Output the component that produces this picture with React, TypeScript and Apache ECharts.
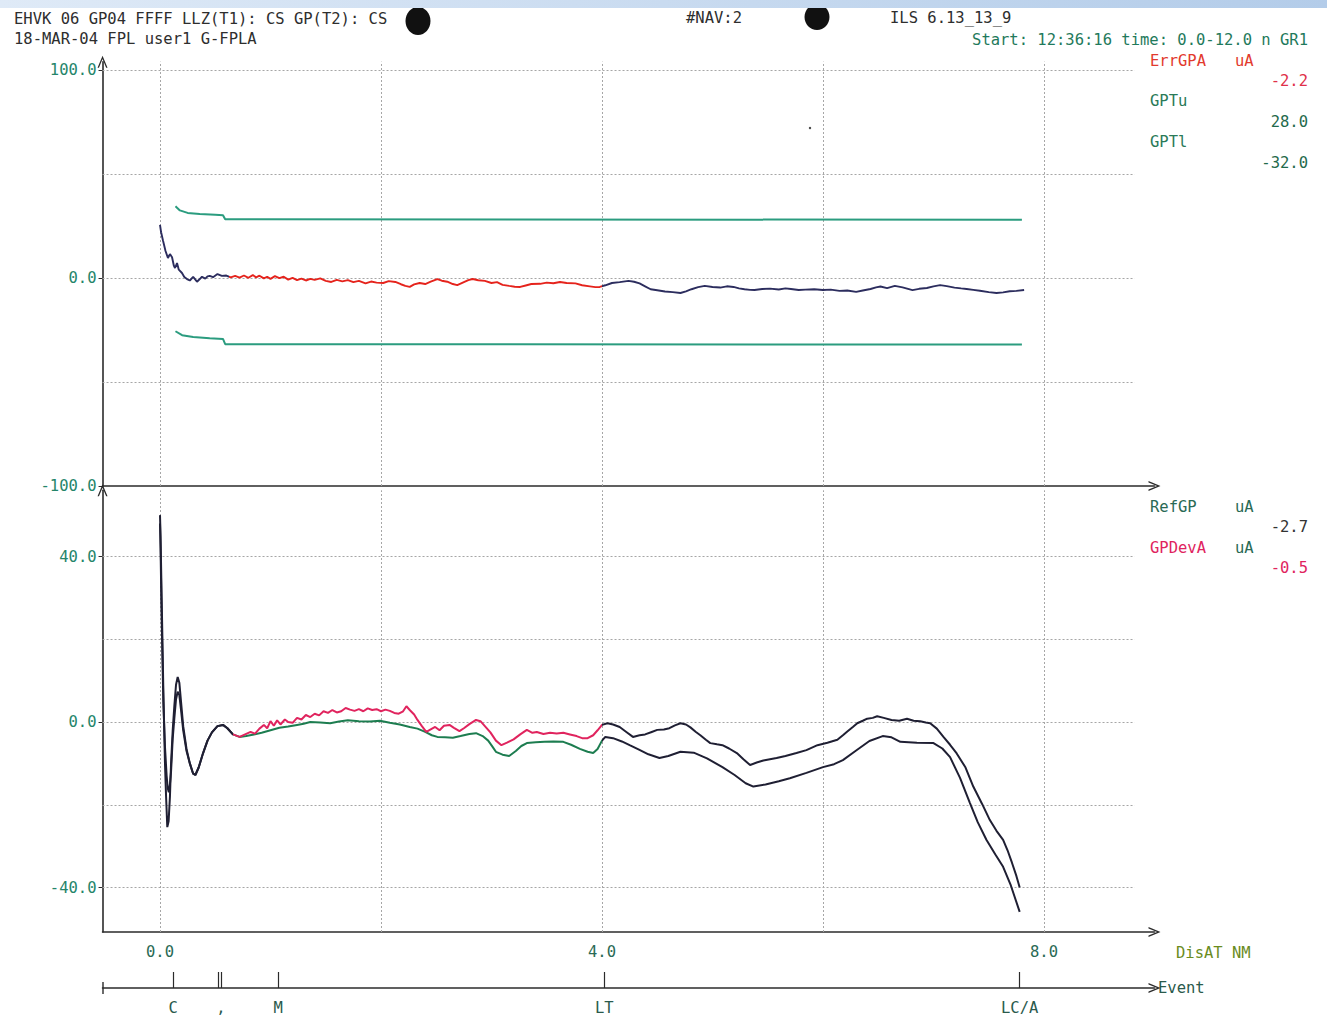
import React, { useEffect, useRef } from "react";
import * as echarts from "echarts";

// ---------- data (distance NM, value uA) ----------
const errGpa: [number, number][] = [
  [0.0, 25.5], [0.01, 22], [0.027, 18], [0.05, 13], [0.072, 9.6], [0.09, 11.5], [0.109, 10], [0.125, 6],
  [0.136, 4.8], [0.154, 7.2], [0.17, 4], [0.199, 2.4], [0.22, 0.5], [0.244, -0.5], [0.27, -1.2], [0.3, 0.5],
  [0.32, -0.8], [0.335, -1.8], [0.36, -0.5], [0.38, 0.6], [0.41, -0.3], [0.43, 0.8], [0.45, 1.0], [0.48, 0.4],
  [0.52, 1.9], [0.56, 1.0], [0.6, 1.2], [0.64, 0.3], [0.68, 1.0], [0.72, 0.2], [0.76, 1.2], [0.8, 0.1],
  [0.84, 1.4], [0.87, 0.3], [0.9, 1.1], [0.94, -0.2], [0.97, 0.6], [1.0, -0.4], [1.04, 0.9], [1.08, -0.1],
  [1.12, 0.6], [1.16, -0.8], [1.2, 0.1], [1.24, -1.0], [1.28, -0.3], [1.32, -1.2], [1.36, -0.4], [1.4, -0.9],
  [1.45, -0.2], [1.5, -1.4], [1.55, -1.9], [1.6, -0.9], [1.65, -1.6], [1.7, -1.0], [1.75, -2.0], [1.8, -1.4],
  [1.86, -2.6], [1.91, -1.7], [1.96, -2.2], [2.02, -2.4], [2.07, -1.5], [2.13, -1.9], [2.18, -3.0], [2.22, -3.8],
  [2.26, -4.3], [2.3, -3.1], [2.35, -2.4], [2.4, -2.9], [2.45, -1.8], [2.51, -0.5], [2.55, -1.3], [2.6, -1.8],
  [2.65, -2.9], [2.69, -3.4], [2.74, -2.2], [2.79, -1.0], [2.83, -0.5], [2.88, -1.1], [2.94, -1.4], [3.0, -2.4],
  [3.05, -2.0], [3.1, -3.3], [3.16, -3.8], [3.21, -4.2], [3.26, -4.3], [3.31, -3.6], [3.36, -2.9], [3.44, -2.8],
  [3.5, -2.2], [3.56, -2.5], [3.62, -1.9], [3.68, -2.4], [3.76, -2.6], [3.82, -3.5], [3.89, -4.0], [3.94, -4.4],
  [3.98, -4.3], [4.03, -3.5], [4.09, -2.4], [4.16, -2.0], [4.24, -1.4], [4.29, -1.8], [4.34, -2.6], [4.39, -4.0],
  [4.44, -5.4], [4.5, -5.9], [4.57, -6.5], [4.64, -6.8], [4.71, -7.2], [4.76, -6.4], [4.81, -5.4], [4.87, -4.4],
  [4.93, -3.8], [5.0, -4.3], [5.07, -4.6], [5.13, -4.0], [5.19, -4.3], [5.24, -5.0], [5.29, -5.4], [5.34, -5.7],
  [5.38, -5.8], [5.45, -5.3], [5.52, -5.1], [5.6, -5.5], [5.66, -5.0], [5.71, -5.3], [5.78, -5.8], [5.84, -5.6],
  [5.92, -5.4], [6.0, -5.8], [6.07, -5.6], [6.15, -6.2], [6.22, -6.0], [6.3, -6.7], [6.36, -6.0], [6.43, -5.3],
  [6.48, -4.5], [6.52, -4.1], [6.58, -4.9], [6.65, -3.8], [6.72, -4.5], [6.81, -5.8], [6.87, -5.2], [6.94, -4.8],
  [7.0, -4.0], [7.06, -3.4], [7.12, -3.9], [7.19, -4.6], [7.25, -5.0], [7.3, -5.3], [7.36, -5.7], [7.42, -6.1],
  [7.5, -6.8], [7.57, -7.2], [7.63, -6.9], [7.69, -6.4], [7.75, -6.2], [7.82, -5.8],
];

const gptU: [number, number][] = [
  [0.14, 34.5], [0.18, 32.5], [0.25, 31.3], [0.36, 30.8], [0.5, 30.4], [0.57, 30.2], [0.59, 28.2], [7.8, 28.0],
];

const gptL: [number, number][] = [
  [0.14, -25.6], [0.2, -27.5], [0.3, -28.4], [0.45, -29.0], [0.57, -29.3], [0.59, -31.8], [7.8, -32.0],
];

const gpDevA: [number, number][] = [
  [0.0, 50], [0.005, 45], [0.015, 30], [0.03, 8], [0.045, -10], [0.055, -18], [0.066, -25.4], [0.078, -24],
  [0.09, -18], [0.1, -10], [0.115, -2], [0.13, 4], [0.145, 9], [0.16, 10.9], [0.175, 9.5], [0.19, 5],
  [0.21, -1], [0.24, -6.5], [0.27, -10], [0.3, -12.5], [0.32, -12.8], [0.35, -11], [0.39, -7.5], [0.43, -4.5],
  [0.47, -2.5], [0.52, -1.0], [0.57, -0.7], [0.61, -1.5], [0.66, -3.0], [0.72, -3.6], [0.77, -3.0], [0.82, -2.4],
  [0.86, -2.8], [0.9, -1.6], [0.94, -0.7], [0.97, -1.5], [1.0, 0.2], [1.03, -0.9], [1.06, 0.4], [1.09, -0.6],
  [1.13, 0.6], [1.16, 0.0], [1.2, -0.2], [1.24, 1.0], [1.28, 0.6], [1.32, 1.7], [1.36, 1.2], [1.4, 2.0],
  [1.44, 1.6], [1.48, 2.6], [1.52, 2.2], [1.56, 2.9], [1.6, 2.3], [1.64, 2.6], [1.68, 3.4], [1.72, 3.0],
  [1.76, 2.7], [1.8, 3.1], [1.84, 2.6], [1.88, 3.3], [1.92, 2.9], [1.96, 3.1], [2.0, 2.6], [2.04, 3.0],
  [2.08, 2.7], [2.12, 2.2], [2.16, 2.0], [2.2, 2.6], [2.23, 3.8], [2.26, 2.9], [2.3, 1.8], [2.33, 0.5],
  [2.37, -1.0], [2.41, -2.4], [2.45, -1.8], [2.49, -1.2], [2.53, -2.0], [2.57, -0.9], [2.62, -0.7], [2.66, -1.4],
  [2.71, -2.2], [2.75, -1.5], [2.8, -0.5], [2.86, 0.5], [2.9, 0.2], [2.94, -1.0], [2.99, -2.5], [3.04, -4.5],
  [3.09, -5.6], [3.14, -5.0], [3.2, -4.2], [3.26, -3.0], [3.32, -1.9], [3.37, -2.6], [3.41, -2.4], [3.47, -2.9],
  [3.53, -2.6], [3.59, -2.8], [3.65, -2.6], [3.71, -3.0], [3.77, -3.4], [3.82, -3.9], [3.87, -3.9], [3.92, -3.2],
  [3.96, -2.0], [4.0, -0.7], [4.05, -0.3], [4.1, -0.6], [4.16, -1.2], [4.22, -2.4], [4.28, -3.6], [4.34, -3.2],
  [4.39, -3.0], [4.45, -2.4], [4.5, -1.9], [4.56, -1.8], [4.61, -1.5], [4.66, -0.8], [4.71, -0.3], [4.76, -0.6],
  [4.8, -1.3], [4.85, -2.4], [4.89, -3.2], [4.94, -4.3], [4.98, -5.1], [5.04, -5.4], [5.09, -5.6], [5.15, -6.4],
  [5.22, -7.5], [5.28, -9.0], [5.34, -10.4], [5.4, -9.8], [5.46, -9.3], [5.52, -9.0], [5.58, -8.7], [5.66, -8.2],
  [5.76, -7.5], [5.85, -6.8], [5.95, -5.6], [6.04, -5.0], [6.13, -4.3], [6.18, -3.2], [6.22, -2.3], [6.27, -1.2],
  [6.31, -0.3], [6.36, 0.3], [6.4, 0.8], [6.45, 1.0], [6.49, 1.4], [6.55, 1.0], [6.62, 0.5], [6.69, 0.3],
  [6.76, 0.8], [6.82, 0.3], [6.88, 0.2], [6.93, -0.1], [6.97, -0.3], [7.03, -1.6], [7.09, -3.6], [7.15, -5.5],
  [7.21, -7.6], [7.29, -11], [7.36, -15.6], [7.44, -19.8], [7.51, -23.7], [7.57, -26.3], [7.63, -28.5], [7.67, -31],
  [7.71, -34], [7.75, -37.2], [7.78, -40],
];

const refGp: [number, number][] = [
  [0.0, 48], [0.005, 42], [0.015, 25], [0.03, 5], [0.045, -6], [0.06, -13], [0.07, -16], [0.08, -17],
  [0.09, -15], [0.1, -12], [0.115, -4], [0.13, 1], [0.145, 5.5], [0.16, 7.3], [0.175, 6.5], [0.19, 3],
  [0.21, -2], [0.24, -7], [0.27, -10], [0.3, -12.5], [0.32, -12.8], [0.35, -11], [0.39, -7.5], [0.43, -4.5],
  [0.47, -2.5], [0.52, -1.0], [0.57, -0.7], [0.61, -1.5], [0.66, -3.0], [0.72, -3.6], [0.78, -3.4], [0.85, -3.0],
  [0.92, -2.6], [1.0, -2.0], [1.08, -1.4], [1.16, -1.1], [1.24, -0.7], [1.3, -0.4], [1.36, 0.0], [1.45, -0.1],
  [1.54, -0.3], [1.62, 0.1], [1.7, 0.4], [1.8, 0.2], [1.9, 0.1], [1.99, 0.3], [2.08, -0.2], [2.17, -0.6],
  [2.26, -1.2], [2.33, -1.6], [2.4, -2.4], [2.46, -3.2], [2.51, -3.6], [2.58, -3.7], [2.65, -3.8], [2.72, -3.4],
  [2.8, -2.9], [2.86, -2.7], [2.92, -3.4], [2.97, -4.5], [3.01, -6.0], [3.04, -7.2], [3.1, -7.9], [3.16, -8.2],
  [3.22, -7.0], [3.27, -5.8], [3.32, -5.1], [3.4, -4.9], [3.48, -4.8], [3.56, -4.7], [3.65, -4.8], [3.72, -5.5],
  [3.8, -6.5], [3.87, -7.2], [3.92, -7.5], [3.96, -6.5], [4.0, -4.5], [4.03, -3.6], [4.1, -3.9], [4.18, -4.7],
  [4.25, -5.6], [4.33, -6.6], [4.42, -7.8], [4.52, -8.7], [4.6, -8.2], [4.71, -7.2], [4.83, -7.4], [4.95, -8.8],
  [5.09, -10.9], [5.2, -12.8], [5.3, -14.8], [5.37, -15.6], [5.48, -15.1], [5.6, -14.3], [5.7, -13.6], [5.85, -12.3],
  [6.0, -10.9], [6.1, -10.2], [6.18, -9.2], [6.3, -6.9], [6.42, -4.6], [6.54, -3.4], [6.62, -3.7], [6.7, -4.8],
  [6.85, -5.0], [7.0, -5.1], [7.08, -6.4], [7.15, -8.5], [7.24, -13.5], [7.33, -19.6], [7.4, -24.2], [7.48, -28.5],
  [7.56, -32], [7.63, -35], [7.7, -39.5], [7.78, -45.9],
];

const yTicksTop = [-100, 0, 100];
const yTicksBottom = [-40, 0, 40];
const xTicks = [0, 4, 8];
const gridXs = [0, 2, 4, 6, 8];
const gridYsTop = [100, 50, 0, -50];
const gridYsBottom = [40, 20, 0, -20, -40];
const eventPos = [0.12, 0.525, 0.552, 1.07, 4.02, 7.78];
const eventLabels = ["C", "", ",", "M", "LT", "LC/A"];

// ---------- styling ----------
const FONT = "DejaVu Sans Mono";
const FS = 15.5;
const AXIS = "#2b2b2b";
const NAVY = "#2c2d5e";
const DARK = "#1f1f33";
const RED = "#e5231c";
const CRIMSON = "#e0245e";
const GREEN = "#1d7d50";
const TEAL = "#2b9c7f";
const LABEL_GREEN = "#24856a";
const ARROW = "path://M0,12 L5,0 L10,12 L8.6,12 L5,3.4 L1.4,12 Z";

const X_MIN = -0.52;
const X_MAX = 9.0;
const GRID_LEFT = 102.54;
const GRID_W = 1051.96;

function txt(text: string, x: number, y: number, fill: string, align: string = "left") {
  return {
    type: "text",
    x,
    y,
    silent: true,
    style: {
      text,
      fill,
      fontFamily: FONT,
      fontSize: FS,
      align,
      textAlign: align,
      verticalAlign: "middle",
      textVerticalAlign: "middle",
    },
  };
}

const gridLine = { color: "#a6a6a6", type: [2, 2], width: 1 };

export default function App() {
  const ref = useRef<HTMLDivElement>(null);

  useEffect(() => {
    if (!ref.current) return;
    const chart = echarts.init(ref.current, undefined, { renderer: "svg" });

    const axisLine = {
      show: true,
      onZero: false,
      symbol: ["none", ARROW],
      symbolSize: [10, 12],
      lineStyle: { color: AXIS, width: 1.6 },
    };

    const markTop = {
      silent: true,
      symbol: ["none", "none"],
      label: { show: false },
      lineStyle: gridLine,
      z: 1,
      animation: false,
      data: [
        ...gridYsTop.map((y) => [{ coord: [X_MIN, y] }, { coord: [8.82, y] }]),
        ...gridXs.map((x) => [{ coord: [x, -100] }, { coord: [x, 104] }]),
      ],
    };
    const markBottom = {
      silent: true,
      symbol: ["none", "none"],
      label: { show: false },
      lineStyle: gridLine,
      z: 1,
      animation: false,
      data: [
        ...gridYsBottom.map((y) => [{ coord: [X_MIN, y] }, { coord: [8.82, y] }]),
        ...gridXs.map((x) => [{ coord: [x, -50.75] }, { coord: [x, 56] }]),
      ],
    };

    const option: any = {
      animation: false,
      backgroundColor: "#ffffff",
      grid: [
        { left: GRID_LEFT, top: 61.68, width: GRID_W, height: 424.32 },
        { left: GRID_LEFT, top: 490.3, width: GRID_W, height: 441.7 },
        { left: GRID_LEFT, top: 968, width: GRID_W, height: 20 },
      ],
      xAxis: [
        {
          gridIndex: 0, type: "value", min: X_MIN, max: X_MAX,
          axisLine, axisTick: { show: false }, axisLabel: { show: false }, splitLine: { show: false },
        },
        {
          gridIndex: 1, type: "value", min: X_MIN, max: X_MAX,
          axisLine, axisTick: { show: false }, splitLine: { show: false },
          axisLabel: {
            customValues: xTicks,
            formatter: (v: number) => v.toFixed(1),
            margin: 12,
            fontFamily: FONT, fontSize: FS, color: "#2a6a55",
          },
        },
        {
          gridIndex: 2, type: "value", min: X_MIN, max: X_MAX,
          axisLine, splitLine: { show: false },
          axisTick: { show: true, customValues: eventPos, inside: true, length: 16, lineStyle: { color: AXIS, width: 1.2 } },
          axisLabel: {
            customValues: eventPos,
            formatter: (v: number) => {
              const i = eventPos.findIndex((p) => Math.abs(p - v) < 1e-6);
              return i >= 0 ? eventLabels[i] : "";
            },
            margin: 12,
            fontFamily: FONT, fontSize: FS, color: "#2a5a4c",
          },
        },
      ],
      yAxis: [
        {
          gridIndex: 0, type: "value", min: -100, max: 104,
          axisLine, splitLine: { show: false },
          axisTick: { show: true, customValues: yTicksTop, length: 4, lineStyle: { color: AXIS } },
          axisLabel: {
            customValues: yTicksTop,
            formatter: (v: number) => v.toFixed(1),
            margin: 6, fontFamily: FONT, fontSize: FS, color: LABEL_GREEN,
          },
        },
        {
          gridIndex: 1, type: "value", min: -50.75, max: 56,
          axisLine, splitLine: { show: false },
          axisTick: { show: true, customValues: yTicksBottom, length: 4, lineStyle: { color: AXIS } },
          axisLabel: {
            customValues: yTicksBottom,
            formatter: (v: number) => v.toFixed(1),
            margin: 6, fontFamily: FONT, fontSize: FS, color: LABEL_GREEN,
          },
        },
        { gridIndex: 2, type: "value", min: 0, max: 1, show: false },
      ],
      visualMap: [
        {
          type: "piecewise", show: false, seriesIndex: 0, dimension: 0,
          pieces: [{ gte: 0.62, lte: 4.0, color: RED }], outOfRange: { color: NAVY },
        },
        {
          type: "piecewise", show: false, seriesIndex: 3, dimension: 0,
          pieces: [{ gte: 0.66, lte: 4.0, color: GREEN }], outOfRange: { color: DARK },
        },
        {
          type: "piecewise", show: false, seriesIndex: 4, dimension: 0,
          pieces: [{ gte: 0.66, lte: 4.0, color: CRIMSON }], outOfRange: { color: DARK },
        },
      ],
      series: [
        {
          name: "ErrGPA", type: "line", xAxisIndex: 0, yAxisIndex: 0, data: errGpa,
          showSymbol: false, lineStyle: { width: 1.9 }, z: 4, silent: true,
        },
        {
          name: "GPTu", type: "line", xAxisIndex: 0, yAxisIndex: 0, data: gptU,
          showSymbol: false, lineStyle: { width: 2, color: TEAL }, itemStyle: { color: TEAL }, z: 3, silent: true,
          markLine: markTop,
        },
        {
          name: "GPTl", type: "line", xAxisIndex: 0, yAxisIndex: 0, data: gptL,
          showSymbol: false, lineStyle: { width: 2, color: TEAL }, itemStyle: { color: TEAL }, z: 3, silent: true,
        },
        {
          name: "RefGP", type: "line", xAxisIndex: 1, yAxisIndex: 1, data: refGp,
          showSymbol: false, lineStyle: { width: 2 }, z: 3, silent: true,
          markLine: markBottom,
        },
        {
          name: "GPDevA", type: "line", xAxisIndex: 1, yAxisIndex: 1, data: gpDevA,
          showSymbol: false, lineStyle: { width: 2 }, z: 4, silent: true,
        },
        {
          name: "Event", type: "scatter", xAxisIndex: 2, yAxisIndex: 2,
          data: eventPos.map((p) => [p, 0]), symbolSize: 0, silent: true,
        },
      ],
      graphic: [
        { type: "ellipse", shape: { cx: 418, cy: 21, rx: 12.5, ry: 14 }, style: { fill: "#111" }, silent: true, z: 5 },
        { type: "ellipse", shape: { cx: 817, cy: 17, rx: 12.5, ry: 13 }, style: { fill: "#111" }, silent: true, z: 5 },
        {
          type: "rect", shape: { x: 0, y: 0, width: 1327, height: 8 }, silent: true, z: 10,
          style: {
            fill: new echarts.graphic.LinearGradient(0, 0, 1, 0, [
              { offset: 0, color: "#dfeaf7" },
              { offset: 1, color: "#b3cce9" },
            ]),
          },
        },
        { type: "line", shape: { x1: 103, y1: 982, x2: 103, y2: 994 }, style: { stroke: AXIS, lineWidth: 1.4 }, silent: true },
        { type: "circle", shape: { cx: 810, cy: 128, r: 1.2 }, style: { fill: "#444" }, silent: true },
        txt("EHVK 06 GP04 FFFF LLZ(T1): CS GP(T2): CS", 14, 19, "#2e2e2e"),
        txt("18-MAR-04 FPL user1 G-FPLA", 14, 39, "#2e2e2e"),
        txt("#NAV:2", 686, 18, "#2e2e2e"),
        txt("ILS 6.13_13_9", 890, 18, "#2e2e2e"),
        txt("Start: 12:36:16 time: 0.0-12.0 n GR1", 1308, 40, "#1f7a5c", "right"),
        txt("ErrGPA", 1150, 61, "#e23a2e"),
        txt("uA", 1235, 61, "#e23a2e"),
        txt("-2.2", 1308, 81, "#e0304a", "right"),
        txt("GPTu", 1150, 101, "#2a7a58"),
        txt("28.0", 1308, 122, "#1f6a4c", "right"),
        txt("GPTl", 1150, 142, "#2a7a58"),
        txt("-32.0", 1308, 163, "#1f6a4c", "right"),
        txt("RefGP", 1150, 507, "#2a6a55"),
        txt("uA", 1235, 507, "#2a6a55"),
        txt("-2.7", 1308, 527, "#333333", "right"),
        txt("GPDevA", 1150, 548, CRIMSON),
        txt("uA", 1235, 548, "#2a6a55"),
        txt("-0.5", 1308, 568, CRIMSON, "right"),
        txt("DisAT NM", 1176, 953, "#6a8c1e"),
        txt("Event", 1158, 988, "#2a5a4c"),
      ],
    };

    chart.setOption(option);
    return () => chart.dispose();
  }, []);

  return (
    <div
      ref={ref}
      style={{ position: "absolute", left: 0, top: 0, width: 1327, height: 1023, background: "#fff" }}
    />
  );
}
